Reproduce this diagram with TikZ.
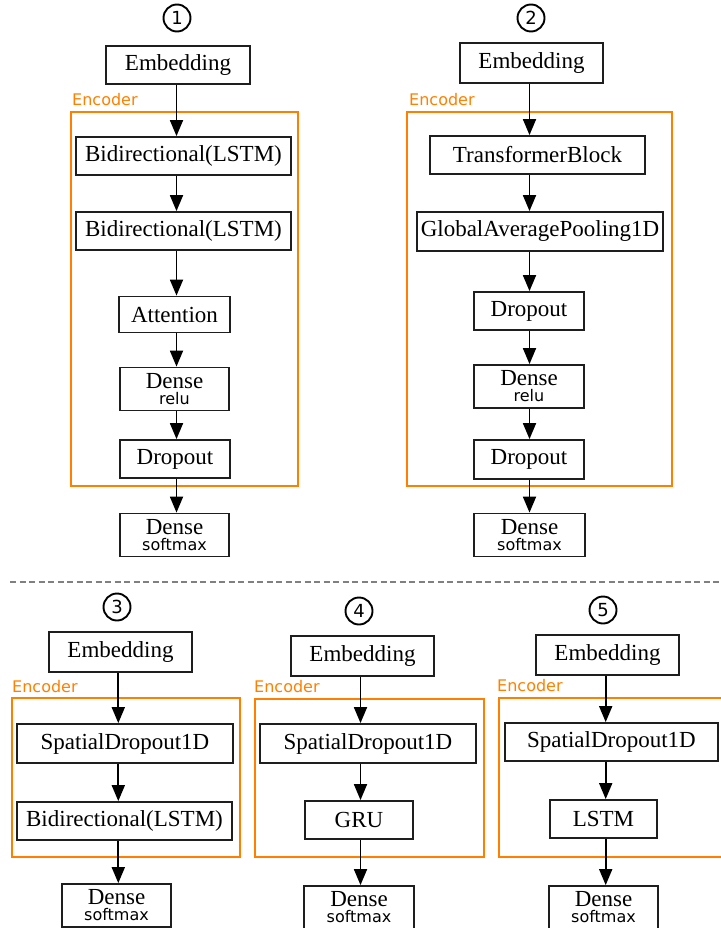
\documentclass[tikz,border=0pt]{standalone}
\usepackage{fontspec}
\setmainfont{Liberation Serif}
\newfontfamily\dvs{DejaVu Sans}
\usetikzlibrary{arrows.meta}
\definecolor{encorange}{RGB}{255,128,0}
\definecolor{boxline}{RGB}{30,30,30}
\tikzset{
  layer/.style={draw=boxline, line width=1.8pt, fill=white, inner sep=0pt,
    minimum height=38pt, font=\fontsize{23}{25}\selectfont},
  dense/.style={layer, align=center, minimum height=43pt,
    font=\fontsize{23}{16}\selectfont},
  flow/.style={draw=black, line width=1.8pt, -{Triangle[length=16pt,width=13pt]}},
  encbox/.style={draw=encorange, line width=2.2pt},
  enclabel/.style={text=encorange, anchor=base west, inner sep=0pt,
    font=\dvs\fontsize{16}{18}\selectfont},
  tag/.style={circle, draw=black, line width=1.9pt, minimum size=27pt, inner sep=0pt,
    font=\dvs\fontsize{18}{18}\selectfont},
  sep/.style={draw=gray, line width=1.4pt, dash pattern=on 6pt off 3.5pt}
}
\newcommand{\act}[1]{{\dvs\fontsize{16}{16}\selectfont #1}}
\begin{document}
\begin{tikzpicture}[x=1pt, y=-1pt]
\useasboundingbox (0,0) rectangle (720,928);

% ---------- model 1 ----------
\coordinate (a1) at (176.5,0);
\node[tag] (t1) at (177,18) {1};
\draw[encbox] (71,112) rectangle (298,486);
\node[enclabel] (e1) at (72,105.5) {Encoder};
\node[layer, minimum width=144pt] (emb1) at (178,65) {Embedding};
\node[layer, minimum width=215pt] (bl1a) at (183.5,156) {Bidirectional(LSTM)};
\node[layer, minimum width=215pt] (bl1b) at (183.5,231) {Bidirectional(LSTM)};
\node[layer, minimum width=111pt, minimum height=36pt] (att1) at (174.5,314.5) {Attention};
\node[dense, minimum width=109pt] (den1) at (174.5,389) {Dense\\[0pt]\act{relu}};
\node[layer, minimum width=110pt] (drp1) at (175,459) {Dropout};
\node[dense, minimum width=109pt] (out1) at (174.5,535) {Dense\\[0pt]\act{softmax}};
\foreach \s/\t in {emb1/bl1a, bl1a/bl1b, bl1b/att1, att1/den1, den1/drp1, drp1/out1}
  \draw[flow] (\s.south -| a1) -- (\t.north -| a1);

% ---------- model 2 ----------
\coordinate (a2) at (529.5,0);
\node[tag] (t2) at (531,18) {2};
\draw[encbox] (407,112) rectangle (672,486);
\node[enclabel] (e2) at (409,105.5) {Encoder};
\node[layer, minimum width=143pt, minimum height=40pt] (emb2) at (531.5,63) {Embedding};
\node[layer, minimum width=215pt] (tb2) at (537.5,155) {TransformerBlock};
\node[layer, minimum width=246pt, minimum height=39pt] (gap2) at (540,231.5) {GlobalAveragePooling1D};
\node[layer, minimum width=110pt] (drp2a) at (529,311) {Dropout};
\node[dense, minimum width=110pt] (den2) at (529,386.5) {Dense\\[0pt]\act{relu}};
\node[layer, minimum width=110pt, minimum height=39pt] (drp2b) at (529,459.5) {Dropout};
\node[dense, minimum width=111pt] (out2) at (529.5,535) {Dense\\[0pt]\act{softmax}};
\foreach \s/\t in {emb2/tb2, tb2/gap2, gap2/drp2a, drp2a/den2, den2/drp2b, drp2b/out2}
  \draw[flow] (\s.south -| a2) -- (\t.north -| a2);

% ---------- divider ----------
\coordinate (d0) at (10,582);
\coordinate (d1) at (720,582);
\draw[sep] (d0) -- (d1);

% ---------- model 3 ----------
\coordinate (a3) at (118.3,0);
\node[tag] (t3) at (117,607) {3};
\draw[encbox] (12,698) rectangle (240,857);
\node[enclabel] (e3) at (12,692) {Encoder};
\node[layer, minimum width=143pt, minimum height=40pt] (emb3) at (120.5,652) {Embedding};
\node[layer, minimum width=216pt, minimum height=39pt] (sd3) at (125,743.5) {SpatialDropout1D};
\node[layer, minimum width=215pt] (bl3) at (124.5,821) {Bidirectional(LSTM)};
\node[dense, minimum width=109pt] (out3) at (116.5,905.5) {Dense\\[0pt]\act{softmax}};
\foreach \s/\t in {emb3/sd3, sd3/bl3, bl3/out3}
  \draw[flow] (\s.south -| a3) -- (\t.north -| a3);

% ---------- model 4 ----------
\coordinate (a4) at (360.5,0);
\node[tag] (t4) at (359,611) {4};
\draw[encbox] (255,699) rectangle (484,857);
\node[enclabel] (e4) at (254,692.5) {Encoder};
\node[layer, minimum width=143pt, minimum height=40pt] (emb4) at (362.5,656) {Embedding};
\node[layer, minimum width=216pt, minimum height=39pt] (sd4) at (368,743.5) {SpatialDropout1D};
\node[layer, minimum width=108pt] (gru4) at (359,820) {GRU};
\node[dense, minimum width=110pt] (out4) at (359,907.5) {Dense\\[0pt]\act{softmax}};
\foreach \s/\t in {emb4/sd4, sd4/gru4, gru4/out4}
  \draw[flow] (\s.south -| a4) -- (\t.north -| a4);

% ---------- model 5 ----------
\coordinate (a5) at (605.7,0);
\node[tag] (t5) at (603,610) {5};
\draw[encbox] (499,698) rectangle (723,857);
\node[enclabel] (e5) at (497,691.5) {Encoder};
\node[layer, minimum width=143pt, minimum height=40pt] (emb5) at (607.5,655) {Embedding};
\node[layer, minimum width=213pt] (sd5) at (611.5,742) {SpatialDropout1D};
\node[layer, minimum width=107pt] (lstm5) at (603.5,819) {LSTM};
\node[dense, minimum width=109pt] (out5) at (603.5,907.5) {Dense\\[0pt]\act{softmax}};
\foreach \s/\t in {emb5/sd5, sd5/lstm5, lstm5/out5}
  \draw[flow] (\s.south -| a5) -- (\t.north -| a5);
\end{tikzpicture}
\end{document}
